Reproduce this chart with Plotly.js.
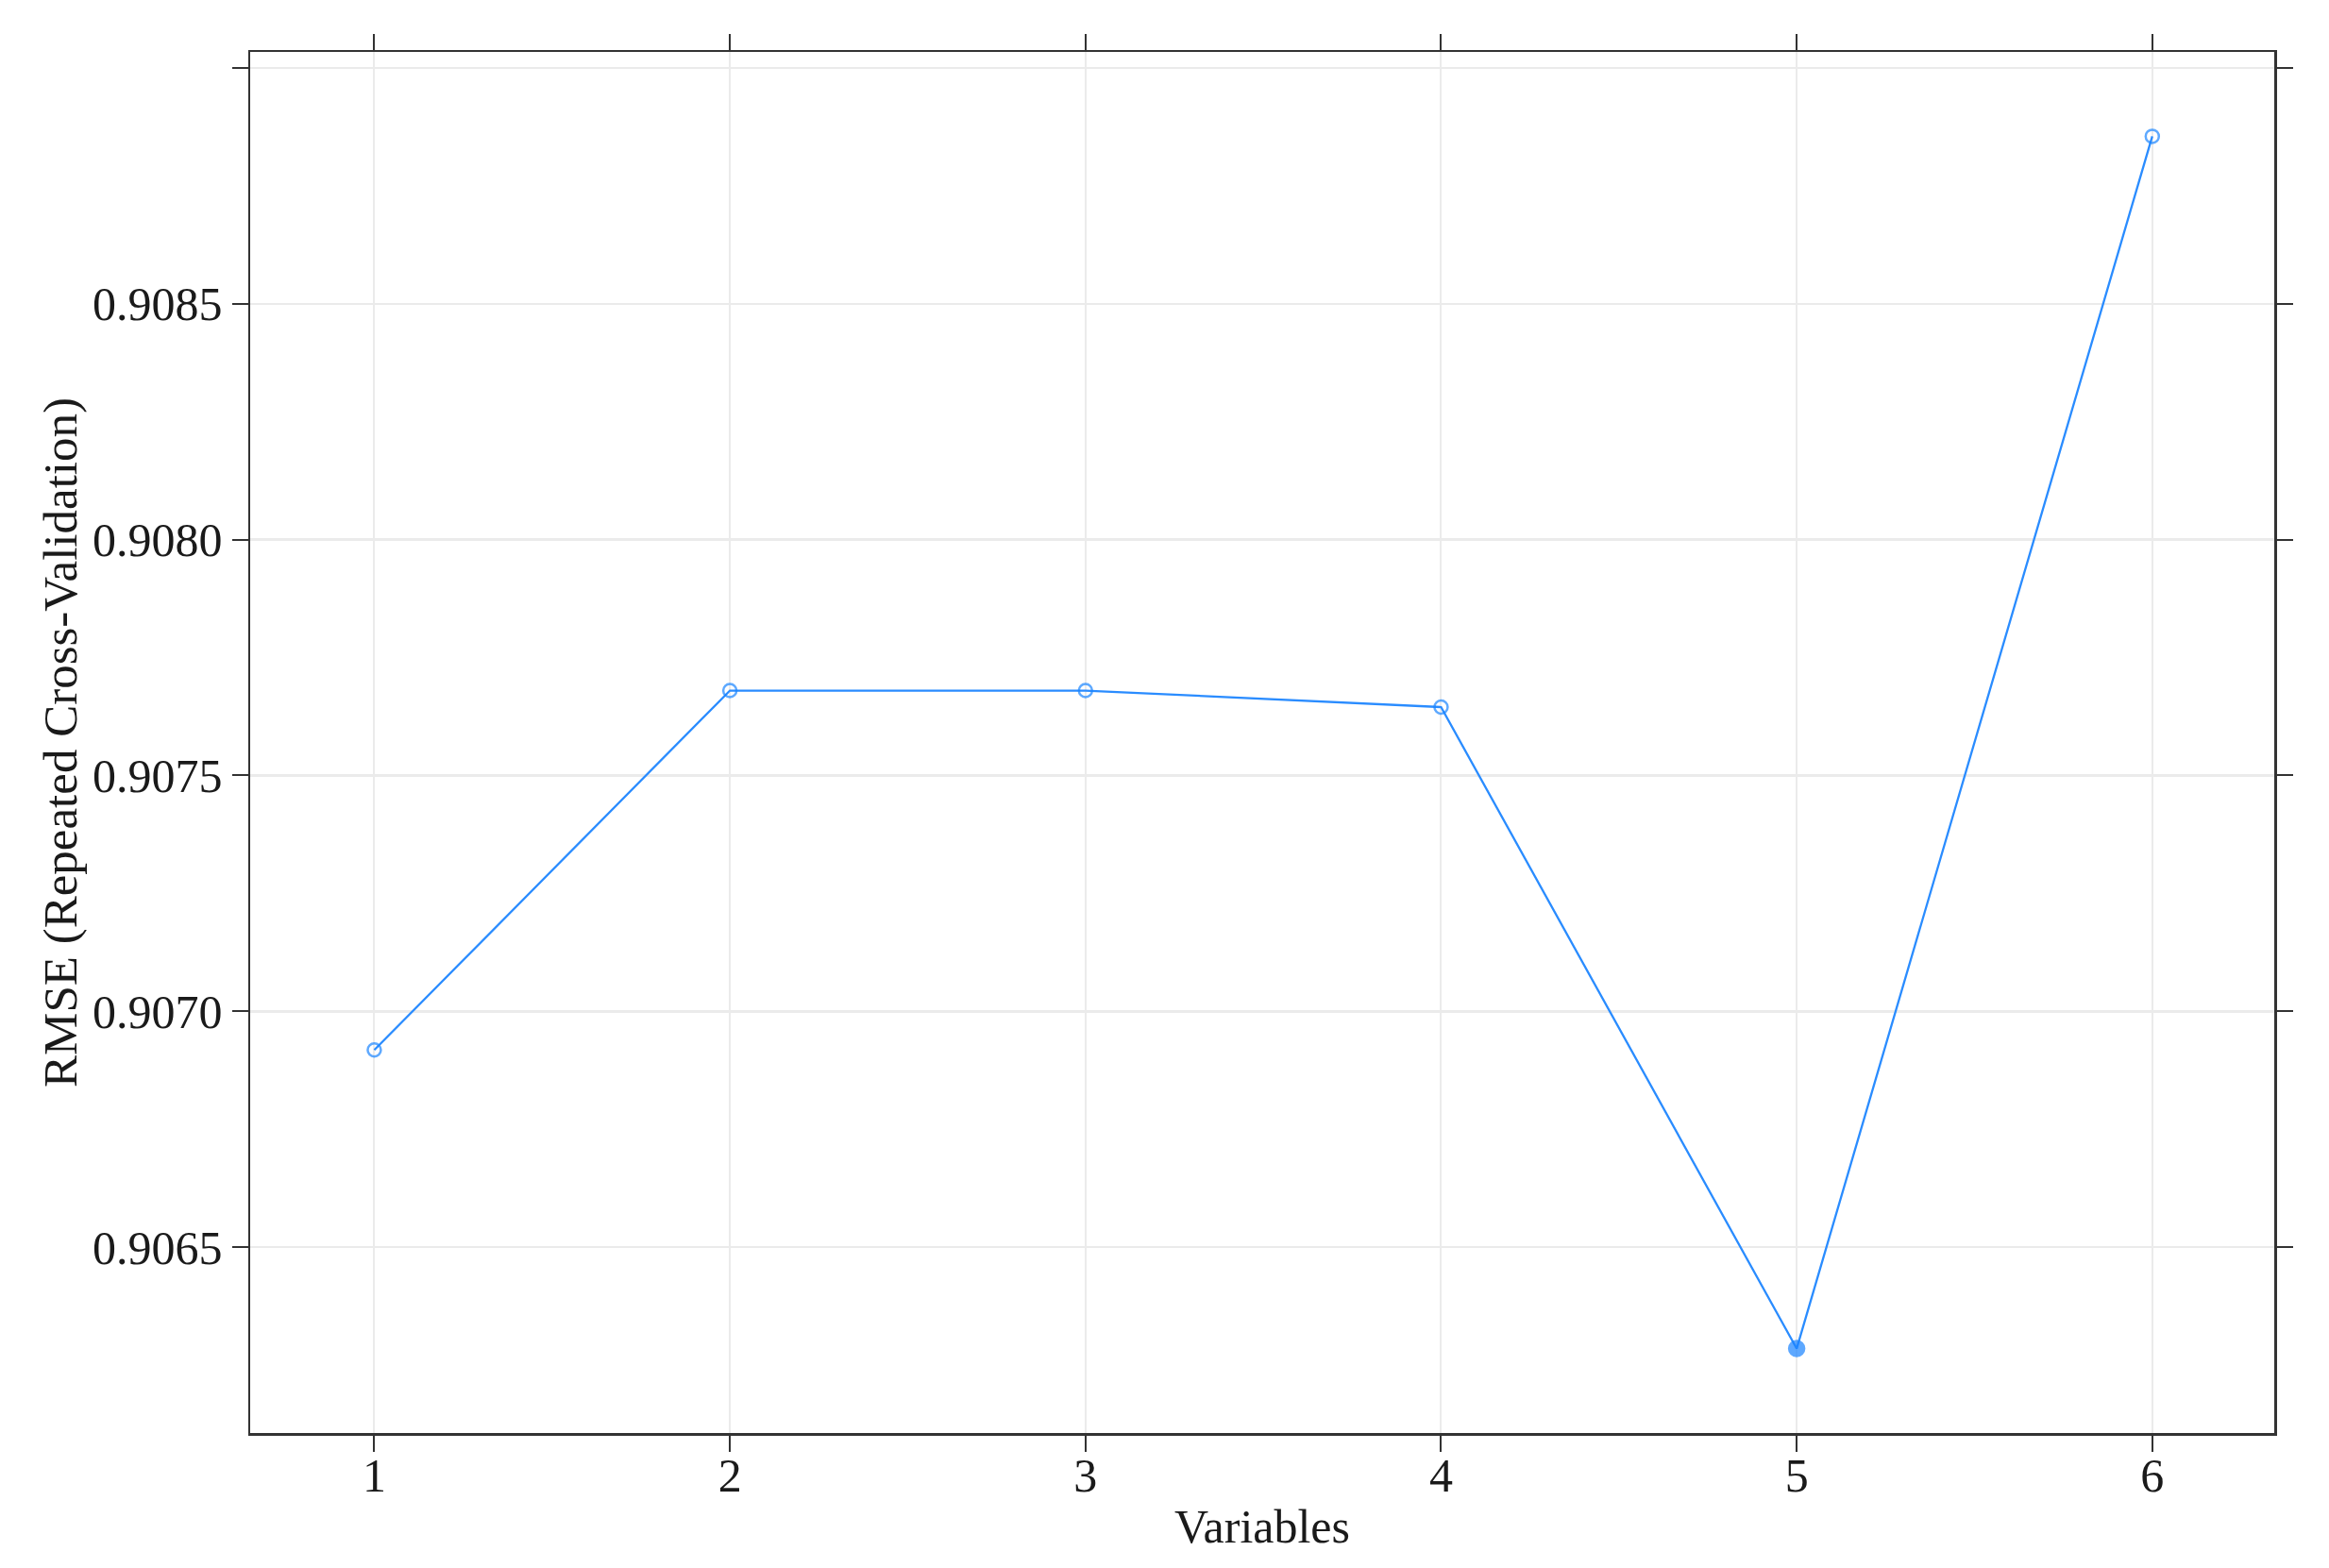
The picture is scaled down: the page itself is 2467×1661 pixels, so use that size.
<!DOCTYPE html>
<html>
<head>
<meta charset="utf-8">
<script src="https://cdn.plot.ly/plotly-3.0.1.min.js"></script>
<style>
	html, body { margin: 0; padding: 0; background: #fff; }
	#aux { width: 2467px; height: 1661px; }
</style>
</head>
<body>
<div id="aux"></div>
<script>
// number of variables vs resampled RMSE
const variables = [1, 2, 3, 4, 5, 6];
const rmse = [0.906918, 0.907680, 0.907680, 0.907645, 0.906285, 0.908855];
const yTickVals = [0.9065, 0.9070, 0.9075, 0.9080, 0.9085, 0.9090];
const yTickText = ['0.9065', '0.9070', '0.9075', '0.9080', '0.9085', ''];

function graficar() {
	// best subset gets a filled dot, the rest open circles
	const best = rmse.indexOf(Math.min(...rmse));
	const symbols = rmse.map((v, i) => i === best ? 'circle' : 'circle-open');
	const sizes = rmse.map((v, i) => i === best ? 16 : 14);

	const data = [{
		x: variables,
		y: rmse,
		type: 'scatter',
		mode: 'lines+markers',
		line: {
			color: '#2a8cff',
			width: 2.3
		},
		marker: {
			color: '#1a84ff',
			symbol: symbols,
			size: sizes,
			line: { color: '#1a84ff', width: 2.5 }
		},
		hoverinfo: 'x+y'
	}];

	const font = { family: '"Liberation Serif", "Times New Roman", serif', size: 50, color: '#1a1a1a' };

	const layout = {
		width: 2467,
		height: 1661,
		margin: { l: 265, r: 58, t: 55, b: 143 },
		paper_bgcolor: '#ffffff',
		plot_bgcolor: '#ffffff',
		font: font,
		showlegend: false,
		xaxis: {
			title: { text: 'Variables', font: font, standoff: 10 },
			range: [0.651, 6.343],
			tickvals: variables,
			ticks: 'outside',
			ticklen: 17,
			tickwidth: 2,
			tickcolor: '#333',
			ticklabelstandoff: -18,
			tickfont: font,
			showline: true,
			linecolor: '#333',
			linewidth: 2.5,
			mirror: 'ticks',
			showgrid: true,
			gridcolor: '#ebebeb',
			gridwidth: 2,
			zeroline: false,
			automargin: false
		},
		yaxis: {
			title: { text: 'RMSE (Repeated Cross-Validation)', font: { family: font.family, size: 51, color: font.color }, standoff: 0 },
			range: [0.906106, 0.909034],
			tickvals: yTickVals,
			ticktext: yTickText,
			ticks: 'outside',
			ticklen: 17,
			tickwidth: 2,
			tickcolor: '#333',
			ticklabelstandoff: 0,
			tickfont: font,
			showline: true,
			linecolor: '#333',
			linewidth: 2.5,
			mirror: 'ticks',
			showgrid: true,
			gridcolor: '#ebebeb',
			gridwidth: 2.5,
			zeroline: false,
			automargin: false
		}
	};
	Plotly.newPlot('aux', data, layout, { staticPlot: true });
}
graficar();
</script>
</body>
</html>
